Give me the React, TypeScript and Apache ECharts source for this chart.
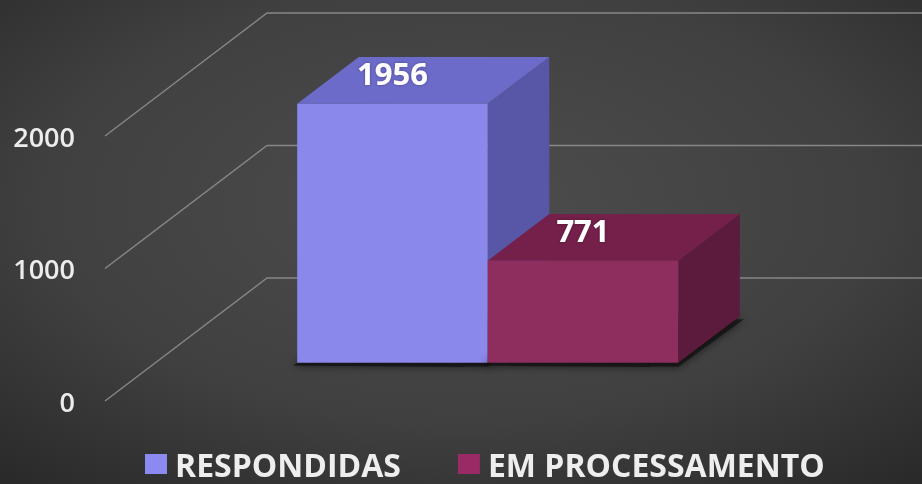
import React, { useEffect, useRef } from "react";
import * as echarts from "echarts";

const categories = ["RESPONDIDAS", "EM PROCESSAMENTO"];
const values = [1956, 771];
const yTicks = [0, 1000, 2000];

const frontColors = ["#8b88ec", "#8e2e5e"];
const topColors = ["#6d6bc9", "#74204a"];
const sideColors = ["#5856a6", "#5c1b3c"];
const legendColors = ["#8c89f0", "#9a2a66"];

// projection of the depth axis (px)
const DEPTH_X = 162;
const DEPTH_Y = -123;
const FRONT = 0.31;
const BACK = 0.69;
const GROUP_RATIO = 0.573;
const FONT = "'Open Sans', 'DejaVu Sans', sans-serif";

function barRenderer(idx: number) {
  return (params: any, api: any) => {
    const val = api.value(1);
    const base = api.coord([api.value(0), 0]);
    const top = api.coord([api.value(0), val]);
    const band = api.size([1, 0])[0];
    const groupW = band * GROUP_RATIO;
    const barW = groupW / categories.length;
    const x0 = base[0] - groupW / 2 + idx * barW + DEPTH_X * FRONT;
    const x1 = x0 + barW;
    const yb = base[1] + DEPTH_Y * FRONT;
    const yt = top[1] + DEPTH_Y * FRONT;
    const dx = DEPTH_X * (BACK - FRONT);
    const dy = DEPTH_Y * (BACK - FRONT);
    return {
      type: "group",
      children: [
        {
          type: "polygon",
          shape: {
            points: [
              [x0 - 4, yb + 3],
              [x1, yb + 4],
              [x1 + dx + 4, yb + dy + 3],
              [x0 + dx, yb + dy],
            ],
          },
          style: {
            fill: "rgba(15,15,15,0.75)",
            shadowBlur: 8,
            shadowColor: "rgba(0,0,0,0.8)",
          },
          silent: true,
        },
        {
          type: "polygon",
          shape: {
            points: [
              [x1, yt],
              [x1 + dx, yt + dy],
              [x1 + dx, yb + dy],
              [x1, yb],
            ],
          },
          style: { fill: sideColors[idx] },
        },
        {
          type: "polygon",
          shape: {
            points: [
              [x0, yt],
              [x1, yt],
              [x1 + dx, yt + dy],
              [x0 + dx, yt + dy],
            ],
          },
          style: { fill: topColors[idx] },
        },
        {
          type: "rect",
          shape: { x: x0, y: yt, width: barW, height: yb - yt },
          style: { fill: frontColors[idx] },
        },
        {
          type: "text",
          style: {
            x: (x0 + x1) / 2,
            y: yt - 31,
            text: String(val),
            fill: "#ffffff",
            font: `bold 31px ${FONT}`,
            align: "center",
            verticalAlign: "middle",
            textShadowColor: "rgba(0,0,0,0.35)",
            textShadowBlur: 3,
          },
        },
      ],
    };
  };
}

function gridRenderer(params: any, api: any) {
  const p = api.coord([0, api.value(1)]);
  const x = params.coordSys.x;
  const y = p[1];
  return {
    type: "polyline",
    shape: {
      points: [
        [x, y],
        [x + DEPTH_X, y + DEPTH_Y],
        [api.getWidth(), y + DEPTH_Y],
      ],
    },
    style: { stroke: "#878787", lineWidth: 1.4, fill: "none" },
    silent: true,
  };
}

export default function App() {
  const ref = useRef<HTMLDivElement>(null);
  useEffect(() => {
    if (!ref.current) return;
    const chart = echarts.init(ref.current, null, { renderer: "svg" });
    chart.setOption({
      animation: false,
      backgroundColor: {
        type: "radial",
        x: 0.5,
        y: 0.42,
        r: 0.75,
        colorStops: [
          { offset: 0, color: "#4d4d4d" },
          { offset: 0.6, color: "#404040" },
          { offset: 1, color: "#2a2a2a" },
        ],
      },
      grid: { left: 105, right: 152, top: 136, bottom: 83 },
      xAxis: {
        type: "category",
        data: [""],
        show: false,
      },
      yAxis: {
        type: "value",
        min: 0,
        max: 2000,
        interval: 1000,
        axisLine: { show: false },
        axisTick: { show: false },
        splitLine: { show: false },
        axisLabel: {
          margin: 30,
          color: "#ececec",
          fontSize: 27,
          fontWeight: 600,
          fontFamily: FONT,
          formatter: (v: number) => String(v),
        },
      },
      legend: {
        data: categories,
        left: 145,
        top: 447,
        padding: 0,
        icon: "rect",
        itemWidth: 22,
        itemHeight: 20,
        itemGap: 57,
        textStyle: {
          color: "#eeeeee",
          fontSize: 32,
          lineHeight: 34,
          fontWeight: "bold",
          fontFamily: FONT,
          padding: [0, 0, 0, 3],
        },
      },
      series: [
        {
          type: "custom",
          name: "grid3d",
          renderItem: gridRenderer,
          data: yTicks.map((t) => [0, t]),
          silent: true,
          z: 1,
        },
        ...categories.map((name, i) => ({
          type: "custom",
          name,
          renderItem: barRenderer(i),
          data: [[0, values[i]]],
          itemStyle: { color: legendColors[i] },
          z: 2,
        })),
      ],
    });
    return () => chart.dispose();
  }, []);
  return (
    <div
      ref={ref}
      style={{ position: "fixed", left: 0, top: 0, width: 922, height: 484 }}
    />
  );
}
